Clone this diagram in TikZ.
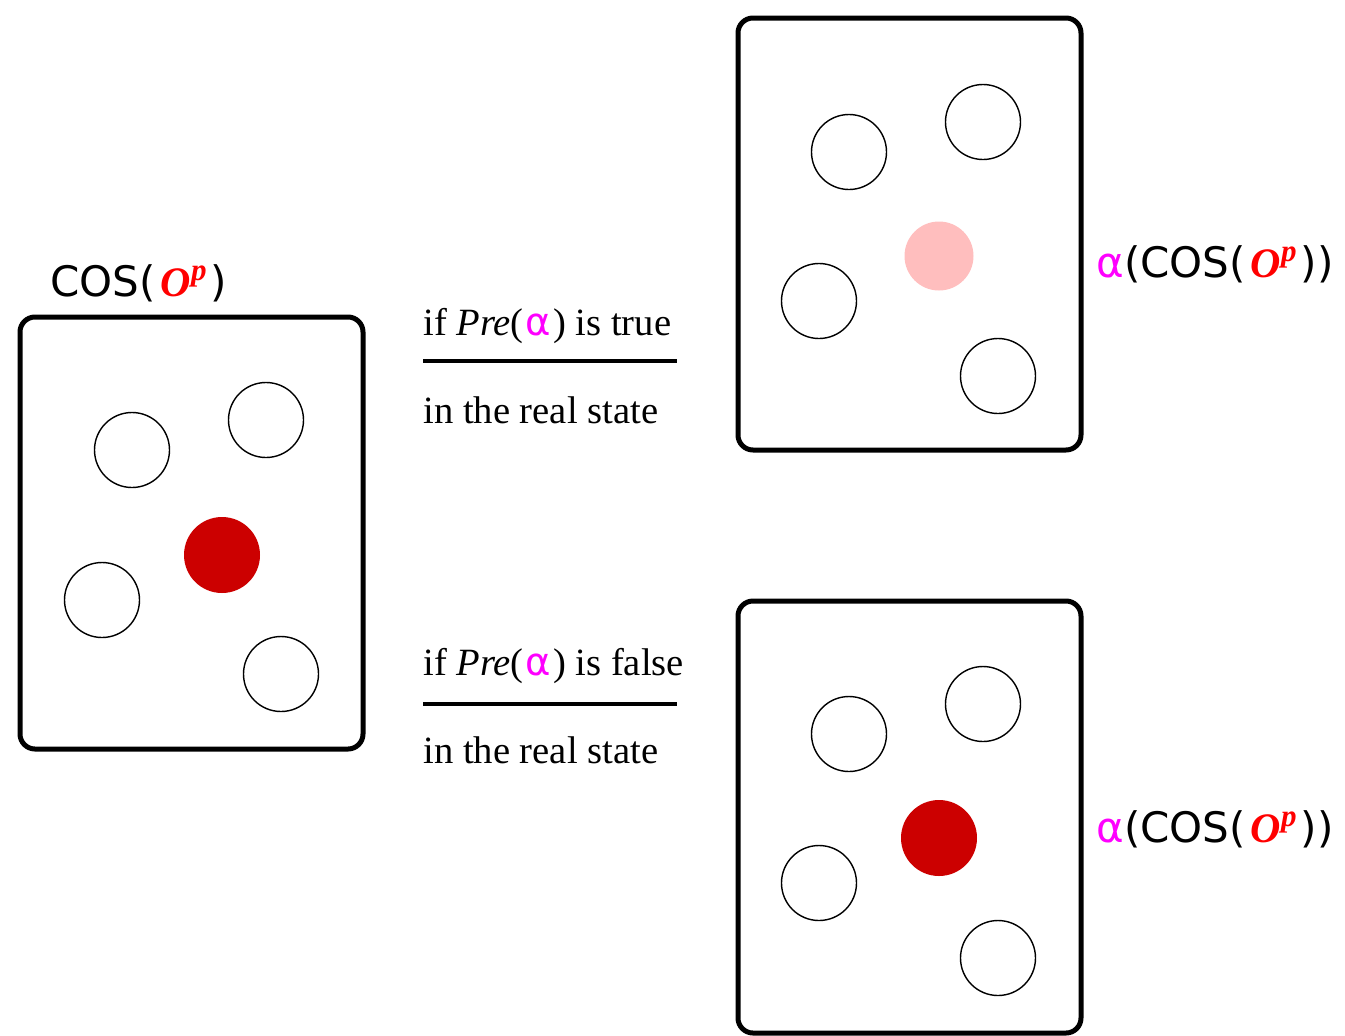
\documentclass[tikz,border=0pt]{standalone}
\usepackage{fontspec}
\setmainfont{Liberation Serif}
\newfontfamily\dvs{DejaVu Sans}
\definecolor{deepred}{RGB}{204,0,0}
\definecolor{lightpink}{RGB}{255,190,190}
\definecolor{mag}{RGB}{255,0,255}
\newcommand\opsym{\kern2.5pt\textcolor{red}{\rmfamily\bfseries\itshape O\raisebox{0.36em}{\scalebox{0.74}{p}}}\kern2pt}
\newcommand\myalpha{\kern1pt\textcolor{mag}{\dvs α}\kern1pt}
\begin{document}
\begin{tikzpicture}[x=0.5pt,y=-0.5pt,
 frame/.style={draw,line width=2.5pt,rounded corners=7.5pt},
 ball/.style={circle,draw,line width=0.7pt,minimum size=37.5pt,inner sep=0pt},
 redball/.style={circle,fill=deepred,minimum size=38pt,inner sep=0pt},
 pinkball/.style={circle,fill=lightpink,minimum size=34.5pt,inner sep=0pt},
 lbl/.style={anchor=base west,inner sep=0pt,font=\dvs\fontsize{21}{25}\selectfont},
 cond/.style={anchor=base west,inner sep=0pt,font=\fontsize{19.3}{23}\selectfont},
 bar/.style={line width=2pt}]
\useasboundingbox (0,0) rectangle (1345,1035);
% boxes
\draw[frame] (20,317) rectangle (363,749);
\draw[frame] (738,18) rectangle (1081,450);
\draw[frame] (738,601) rectangle (1081,1033);
% left box contents
\node[ball] (l1) at (132,450) {};
\node[ball] (l2) at (266,420) {};
\node[redball] (lr) at (222,555) {};
\node[ball] (l3) at (102,600) {};
\node[ball] (l4) at (281,674) {};
% top right contents
\node[ball] (t1) at (849,152) {};
\node[ball] (t2) at (983,122) {};
\node[pinkball] (tp) at (939,256) {};
\node[ball] (t3) at (819,301) {};
\node[ball] (t4) at (998,376) {};
% bottom right contents
\node[ball] (b1) at (849,734) {};
\node[ball] (b2) at (983,704) {};
\node[redball] (br) at (939,838) {};
\node[ball] (b3) at (819,883) {};
\node[ball] (b4) at (998,958) {};
% labels
\node[lbl] (cosl) at (50,296) {COS(\opsym)};
\node[lbl] (atop) at (1096,277) {\textcolor{mag}{α}(COS(\opsym))};
\node[lbl] (abot) at (1096,842) {\textcolor{mag}{α}(COS(\opsym))};
% conditions
\node[cond] (ct1) at (423,335) {if \textit{Pre}(\myalpha) is true};
\coordinate (s1a) at (423,361);
\coordinate (s1b) at (677,361);
\draw[bar] (s1a) -- (s1b);
\node[cond] (ct2) at (423,423) {in the real state};
\node[cond] (cf1) at (423,675) {if \textit{Pre}(\myalpha) is false};
\coordinate (s2a) at (423,704);
\coordinate (s2b) at (677,704);
\draw[bar] (s2a) -- (s2b);
\node[cond] (cf2) at (423,763) {in the real state};
\end{tikzpicture}
\end{document}
